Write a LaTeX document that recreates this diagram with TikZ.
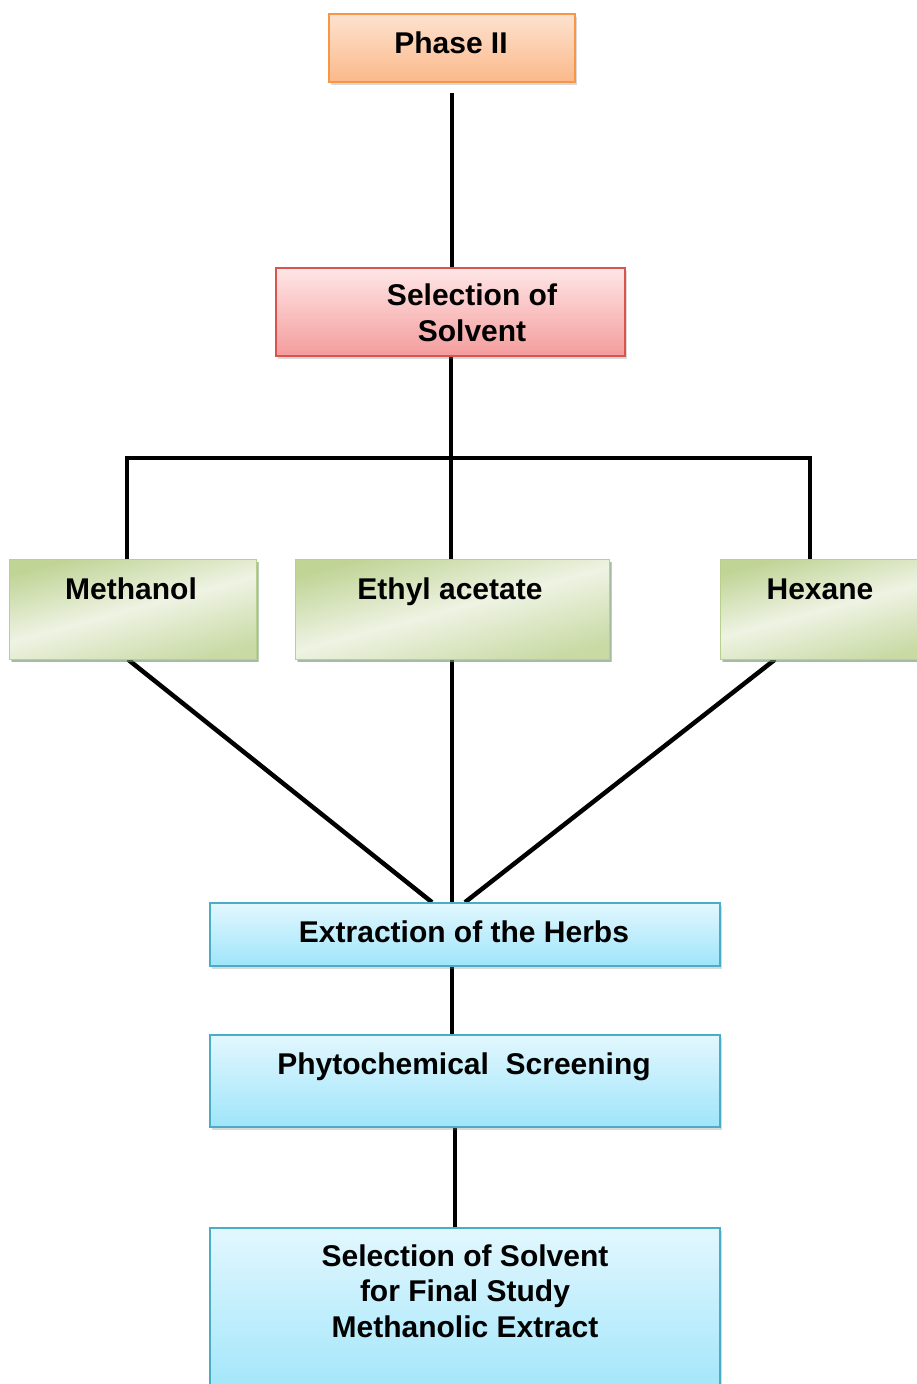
\documentclass[tikz,border=0pt]{standalone}
\usepackage{fontspec}
\setmainfont{Liberation Sans}
\usetikzlibrary{shadows}

\definecolor{orangeTop}{HTML}{FDE2CF}
\definecolor{orangeBot}{HTML}{FBB98A}
\definecolor{orangeLine}{HTML}{F79646}
\definecolor{pinkTop}{HTML}{FFE6E6}
\definecolor{pinkBot}{HTML}{F49C9C}
\definecolor{pinkLine}{HTML}{D9534F}
\definecolor{greenDark}{HTML}{C0D496}
\definecolor{greenLight}{HTML}{EEF3E3}
\definecolor{greenLine}{HTML}{B9CF8E}
\definecolor{blueTop}{HTML}{E2F7FE}
\definecolor{blueBot}{HTML}{9FE5FA}
\definecolor{blueLine}{HTML}{4BACC6}

\pgfdeclarelayer{lines}
\pgfsetlayers{lines,main}

\begin{document}
\begin{tikzpicture}[x=1pt,y=-1pt,
  boxbase/.style={rectangle, inner sep=0pt,
    drop shadow={shadow xshift=2pt, shadow yshift=-3pt, opacity=0.3}},
  orangebox/.style={boxbase, draw=orangeLine, line width=1.5pt,
    top color=orangeTop, bottom color=orangeBot},
  pinkbox/.style={boxbase, draw=pinkLine, line width=1.3pt,
    top color=pinkTop, bottom color=pinkBot},
  greenbox/.style={boxbase, draw=greenLine, line width=1pt,
    top color=greenDark, bottom color=greenDark!80!greenLight, middle color=greenLight,
    shading angle=15,
    drop shadow={shadow xshift=3pt, shadow yshift=-3pt, opacity=0.45, fill=gray!80!green}},
  bluebox/.style={boxbase, draw=blueLine, line width=1.5pt,
    top color=blueTop, bottom color=blueBot},
  labeltext/.style={font=\bfseries\fontsize{30}{35.5}\selectfont, align=center, inner sep=0pt},
  label/.style={labeltext, text height=24pt, text depth=2.5pt},
  link/.style={line width=4.5pt, black}
]
\useasboundingbox (0,0) rectangle (917,1384);
\clip (0,0) rectangle (917,1384);

% boxes
\node[orangebox, minimum width=246pt, minimum height=68pt] (phase) at (452,48) {};
\node[pinkbox, minimum width=349pt, minimum height=88pt] (select) at (450.5,312) {};
\node[greenbox, minimum width=247pt, minimum height=100pt] (meth) at (132.5,609) {};
\node[greenbox, minimum width=314pt, minimum height=100pt] (ethyl) at (452,609) {};
\node[greenbox, minimum width=210pt, minimum height=100pt] (hex) at (825,609) {};
\node[bluebox, minimum width=510pt, minimum height=63pt] (extr) at (465,934.5) {};
\node[bluebox, minimum width=510pt, minimum height=92pt] (phyto) at (465,1081) {};
\node[bluebox, minimum width=510pt, minimum height=172pt] (final) at (465,1314) {};

% texts
\node[label] (tphase) at (451,43) {Phase II};
\node[labeltext] (tselect) at (472,313) {Selection of\\Solvent};
\node[label] (tmeth) at (131,589) {Methanol};
\node[label] (tethyl) at (450,589) {Ethyl acetate};
\node[label] (thex) at (820,589) {Hexane};
\node[label] (textr) at (464,932) {Extraction of the Herbs};
\node[label] (tphyto) at (464,1064) {Phytochemical\ \ Screening};
\node[labeltext] (tfinal) at (465,1291) {Selection of Solvent\\for Final Study\\Methanolic Extract};

% connectors
\coordinate (bus) at (451,458);
\coordinate (busL) at (127,458);
\coordinate (busR) at (810,458);
\begin{pgfonlayer}{lines}
\draw[link] ([yshift=-10pt]phase.south) -- (phase.south |- select.north);
\draw[link] (select.south -| bus) -- (bus);
\draw[link] (busL |- meth.north) -- (busL) -- (busR) -- (busR |- hex.north);
\draw[link] (bus) -- (bus |- ethyl.north);
\draw[link] ([xshift=-4.5pt]meth.south) -- ([xshift=-33pt]extr.north);
\draw[link] (ethyl.south) -- (ethyl.south |- extr.north);
\draw[link] ([xshift=-50pt]hex.south) -- (extr.north);
\draw[link] ([xshift=-13pt]extr.south) -- ([xshift=-13pt]phyto.north);
\draw[link] ([xshift=-10pt]phyto.south) -- ([xshift=-10pt]final.north);
\end{pgfonlayer}
\end{tikzpicture}
\end{document}
